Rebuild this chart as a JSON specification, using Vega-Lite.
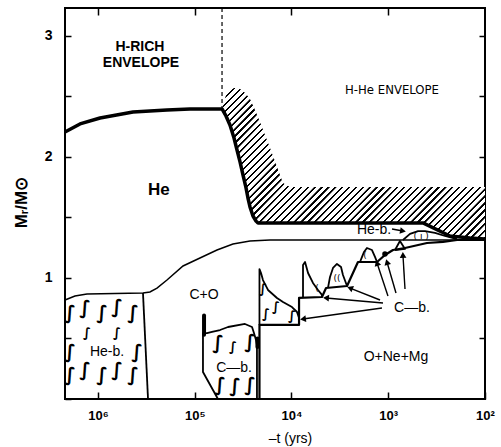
{
"$schema": "https://vega.github.io/schema/vega-lite/v6.json",
"width": 420, "height": 391,
"autosize": {"type": "none"},
"padding": {"left": 65, "top": 8, "right": 16, "bottom": 48},
"background": "white",
"config": {"view": {"stroke": "black", "strokeWidth": 2}, "font": "Liberation Sans"},
"datasets": {
"hatch": [
{"i":0,"lg":4.718,"m":2.397},{"i":1,"lg":4.677,"m":2.512},{"i":2,"lg":4.636,"m":2.554},{"i":3,"lg":4.594,"m":2.570},{"i":4,"lg":4.563,"m":2.570},{"i":5,"lg":4.532,"m":2.562},{"i":6,"lg":4.501,"m":2.545},{"i":7,"lg":4.470,"m":2.521},{"i":8,"lg":4.429,"m":2.479},{"i":9,"lg":4.377,"m":2.388},{"i":10,"lg":4.326,"m":2.289},{"i":11,"lg":4.222,"m":2.074},{"i":12,"lg":4.088,"m":1.785},{"i":13,"lg":4.016,"m":1.752},{"i":14,"lg":2.0,"m":1.752},
{"i":15,"lg":2.0,"m":1.322},{"i":16,"lg":2.362,"m":1.347},{"i":17,"lg":2.641,"m":1.455},{"i":18,"lg":4.346,"m":1.455},{"i":19,"lg":4.367,"m":1.471},{"i":20,"lg":4.398,"m":1.512},{"i":21,"lg":4.429,"m":1.587},{"i":22,"lg":4.450,"m":1.661},{"i":23,"lg":4.470,"m":1.744},{"i":24,"lg":4.501,"m":1.851},{"i":25,"lg":4.532,"m":1.959},{"i":26,"lg":4.563,"m":2.058},{"i":27,"lg":4.594,"m":2.157},{"i":28,"lg":4.636,"m":2.264},{"i":29,"lg":4.677,"m":2.339},{"i":30,"lg":4.718,"m":2.397}
],
"thick": [
{"i":0,"lg":6.341,"m":2.207},{"i":1,"lg":6.186,"m":2.273},{"i":2,"lg":5.979,"m":2.322},{"i":3,"lg":5.638,"m":2.372},{"i":4,"lg":5.287,"m":2.388},{"i":5,"lg":5.049,"m":2.397},{"i":6,"lg":4.718,"m":2.397},{"i":7,"lg":4.677,"m":2.339},{"i":8,"lg":4.636,"m":2.264},{"i":9,"lg":4.594,"m":2.157},{"i":10,"lg":4.563,"m":2.058},{"i":11,"lg":4.532,"m":1.959},{"i":12,"lg":4.501,"m":1.851},{"i":13,"lg":4.470,"m":1.744},{"i":14,"lg":4.450,"m":1.661},{"i":15,"lg":4.429,"m":1.587},{"i":16,"lg":4.398,"m":1.512},{"i":17,"lg":4.367,"m":1.471},{"i":18,"lg":4.346,"m":1.455},{"i":19,"lg":2.641,"m":1.455},{"i":20,"lg":2.362,"m":1.347},{"i":21,"lg":2.155,"m":1.331},{"i":22,"lg":2.0,"m":1.322}
],
"dashed": [{"i":0,"lg":4.718,"m":3.231},{"i":1,"lg":4.718,"m":2.397}],
"thin": [
{"i":0,"lg":6.341,"m":0.818},{"i":1,"lg":6.238,"m":0.851},{"i":2,"lg":6.114,"m":0.868},{"i":3,"lg":5.535,"m":0.876},{"i":4,"lg":5.463,"m":0.884},{"i":5,"lg":5.390,"m":0.917},{"i":6,"lg":5.287,"m":0.983},{"i":7,"lg":5.121,"m":1.099},{"i":8,"lg":4.946,"m":1.165},{"i":9,"lg":4.770,"m":1.231},{"i":10,"lg":4.605,"m":1.281},{"i":11,"lg":4.429,"m":1.306},{"i":12,"lg":4.222,"m":1.314},{"i":13,"lg":2.0,"m":1.314}
],
"step": [
{"i":0,"lg":4.331,"m":0},{"i":1,"lg":4.331,"m":0.612},{"i":2,"lg":3.922,"m":0.612},{"i":3,"lg":3.922,"m":0.835},{"i":4,"lg":3.685,"m":0.843},{"i":5,"lg":3.643,"m":0.917},{"i":6,"lg":3.426,"m":0.934},{"i":7,"lg":3.313,"m":1.132},{"i":8,"lg":3.116,"m":1.132},{"i":9,"lg":3.034,"m":1.190},{"i":10,"lg":2.951,"m":1.231},{"i":11,"lg":2.827,"m":1.248},{"i":12,"lg":2.600,"m":1.289},{"i":13,"lg":2.434,"m":1.298},{"i":14,"lg":2.289,"m":1.314},{"i":15,"lg":2.0,"m":1.314}
],
"outlines": [
{"id":"heb","i":0,"lg":5.535,"m":0.876},{"id":"heb","i":1,"lg":5.483,"m":0},
{"id":"cb","i":0,"lg":4.357,"m":0},{"id":"cb","i":1,"lg":4.357,"m":0.446},{"id":"cb","i":2,"lg":4.367,"m":0.488},{"id":"cb","i":3,"lg":4.388,"m":0.545},{"id":"cb","i":4,"lg":4.408,"m":0.595},{"id":"cb","i":5,"lg":4.481,"m":0.620},{"id":"cb","i":6,"lg":4.656,"m":0.595},{"id":"cb","i":7,"lg":4.739,"m":0.570},{"id":"cb","i":8,"lg":4.822,"m":0.554},{"id":"cb","i":9,"lg":4.873,"m":0.545},{"id":"cb","i":10,"lg":4.915,"m":0.545},{"id":"cb","i":11,"lg":4.915,"m":0.223},{"id":"cb","i":12,"lg":4.760,"m":0},
{"id":"s1","i":0,"lg":4.331,"m":0.612},{"id":"s1","i":1,"lg":4.331,"m":1.074},{"id":"s1","i":2,"lg":4.315,"m":1.041},{"id":"s1","i":3,"lg":4.295,"m":0.983},{"id":"s1","i":4,"lg":4.243,"m":0.901},{"id":"s1","i":5,"lg":4.150,"m":0.835},{"id":"s1","i":6,"lg":4.088,"m":0.802},{"id":"s1","i":7,"lg":3.995,"m":0.760},{"id":"s1","i":8,"lg":3.943,"m":0.719},{"id":"s1","i":9,"lg":3.922,"m":0.669},{"id":"s1","i":10,"lg":3.922,"m":0.612},
{"id":"s2","i":0,"lg":3.881,"m":0.843},{"id":"s2","i":1,"lg":3.881,"m":1.107},{"id":"s2","i":2,"lg":3.860,"m":1.132},{"id":"s2","i":3,"lg":3.829,"m":1.041},{"id":"s2","i":4,"lg":3.778,"m":0.959},{"id":"s2","i":5,"lg":3.726,"m":0.901},{"id":"s2","i":6,"lg":3.685,"m":0.860},{"id":"s2","i":7,"lg":3.685,"m":0.843},
{"id":"s3","i":0,"lg":3.623,"m":0.918},{"id":"s3","i":1,"lg":3.602,"m":1.008},{"id":"s3","i":2,"lg":3.571,"m":1.083},{"id":"s3","i":3,"lg":3.530,"m":1.116},{"id":"s3","i":4,"lg":3.488,"m":1.091},{"id":"s3","i":5,"lg":3.468,"m":1.025},{"id":"s3","i":6,"lg":3.426,"m":0.934},
{"id":"s4","i":0,"lg":3.292,"m":1.132},{"id":"s4","i":1,"lg":3.271,"m":1.174},{"id":"s4","i":2,"lg":3.251,"m":1.215},{"id":"s4","i":3,"lg":3.220,"m":1.248},{"id":"s4","i":4,"lg":3.168,"m":1.231},{"id":"s4","i":5,"lg":3.137,"m":1.174},{"id":"s4","i":6,"lg":3.116,"m":1.132},
{"id":"tri","i":0,"lg":2.930,"m":1.231},{"id":"tri","i":1,"lg":2.879,"m":1.306},{"id":"tri","i":2,"lg":2.827,"m":1.240},{"id":"tri","i":3,"lg":2.930,"m":1.231},
{"id":"lens","i":0,"lg":2.848,"m":1.314},{"id":"lens","i":1,"lg":2.775,"m":1.364},{"id":"lens","i":2,"lg":2.692,"m":1.388},{"id":"lens","i":3,"lg":2.620,"m":1.388},{"id":"lens","i":4,"lg":2.517,"m":1.372},{"id":"lens","i":5,"lg":2.413,"m":1.347},{"id":"lens","i":6,"lg":2.289,"m":1.322}
],
"spikes": [{"lg":4.904,"m":0.53,"m2":0.69},{"lg":4.352,"m":0.43,"m2":0.50}],
"dots": [{"lg":3.034,"m":1.198}],
"arrows": [
{"lg":3.065,"m":0.752,"lg2":3.881,"m2":0.661,"dir":172},
{"lg":3.054,"m":0.793,"lg2":3.643,"m2":0.835,"dir":185},
{"lg":3.085,"m":0.818,"lg2":3.395,"m2":0.917,"dir":202},
{"lg":3.003,"m":0.851,"lg2":3.116,"m2":1.124,"dir":252},
{"lg":2.920,"m":0.876,"lg2":3.013,"m2":1.132,"dir":254},
{"lg":2.827,"m":0.909,"lg2":2.848,"m2":1.190,"dir":267},
{"lg":2.961,"m":1.405,"lg2":2.848,"m2":1.388,"dir":10}
],
"swirls": [
{"lg":6.289,"m":0.711},{"lg":6.134,"m":0.752},{"lg":5.959,"m":0.711},{"lg":5.804,"m":0.760},{"lg":5.638,"m":0.711},
{"lg":6.289,"m":0.388},{"lg":5.597,"m":0.388},
{"lg":6.289,"m":0.198},{"lg":6.134,"m":0.240},{"lg":5.959,"m":0.198},{"lg":5.804,"m":0.240},{"lg":5.638,"m":0.198},
{"lg":4.760,"m":0.463},{"lg":4.429,"m":0.471},{"lg":4.739,"m":0.116},{"lg":4.584,"m":0.105},{"lg":4.429,"m":0.116}
],
"swirls_small": [
{"lg":4.295,"m":0.909},{"lg":4.264,"m":0.702},{"lg":4.160,"m":0.760},{"lg":3.995,"m":0.686},{"lg":4.605,"m":0.430},{"lg":6.114,"m":0.545},{"lg":5.804,"m":0.545}
],
"marks_small": [
{"t":"(","lg":3.736,"m":0.917},{"t":"((","lg":3.530,"m":1.000},{"t":"(","lg":3.240,"m":1.190},{"t":"( ı )","lg":2.66,"m":1.345}
],
"labels": [
{"text":"C+O","lg":4.904,"m":0.860},
{"text":"He-b.","lg":5.907,"m":0.388},
{"text":"C—b.","lg":4.594,"m":0.256},
{"text":"C—b.","lg":2.755,"m":0.752},
{"text":"O+Ne+Mg","lg":2.920,"m":0.347},
{"text":"He-b.","lg":3.147,"m":1.397}
],
"labels_bold": [
{"text":"H-RICH","lg":5.566,"m":2.909},
{"text":"ENVELOPE","lg":5.556,"m":2.777}
],
"label_he": [{"text":"He","lg":5.370,"m":1.727}],
"label_env": [{"text":"H-He ENVELOPE","lg":2.961,"m":2.554}]
},
"encoding": {
"x": {"field":"lg","type":"quantitative","scale":{"domain":[6.341,2],"nice":false,"zero":false},"axis":null},
"y": {"field":"m","type":"quantitative","scale":{"domain":[0,3.231],"nice":false,"zero":false},"axis":null}
},
"layer": [
{"data":{"name":"hatch"},
 "mark":{"type":"line","strokeOpacity":0,"fill":{"gradient":"linear","x1":0,"y1":0,"x2":1.185,"y2":0.675,"stops":[
{"offset":0,"color":"#fff"},{"offset":0.0105,"color":"#fff"},{"offset":0.0112,"color":"#000"},{"offset":0.016,"color":"#000"},
{"offset":0.0167,"color":"#fff"},{"offset":0.0272,"color":"#fff"},{"offset":0.0279,"color":"#000"},{"offset":0.0327,"color":"#000"},
{"offset":0.0333,"color":"#fff"},{"offset":0.0438,"color":"#fff"},{"offset":0.0445,"color":"#000"},{"offset":0.0493,"color":"#000"},
{"offset":0.05,"color":"#fff"},{"offset":0.0605,"color":"#fff"},{"offset":0.0612,"color":"#000"},{"offset":0.066,"color":"#000"},
{"offset":0.0667,"color":"#fff"},{"offset":0.0772,"color":"#fff"},{"offset":0.0779,"color":"#000"},{"offset":0.0827,"color":"#000"},
{"offset":0.0833,"color":"#fff"},{"offset":0.0938,"color":"#fff"},{"offset":0.0945,"color":"#000"},{"offset":0.0993,"color":"#000"},
{"offset":0.1,"color":"#fff"},{"offset":0.1105,"color":"#fff"},{"offset":0.1112,"color":"#000"},{"offset":0.116,"color":"#000"},
{"offset":0.1167,"color":"#fff"},{"offset":0.1272,"color":"#fff"},{"offset":0.1279,"color":"#000"},{"offset":0.1327,"color":"#000"},
{"offset":0.1333,"color":"#fff"},{"offset":0.1438,"color":"#fff"},{"offset":0.1445,"color":"#000"},{"offset":0.1493,"color":"#000"},
{"offset":0.15,"color":"#fff"},{"offset":0.1605,"color":"#fff"},{"offset":0.1612,"color":"#000"},{"offset":0.166,"color":"#000"},
{"offset":0.1667,"color":"#fff"},{"offset":0.1772,"color":"#fff"},{"offset":0.1779,"color":"#000"},{"offset":0.1827,"color":"#000"},
{"offset":0.1833,"color":"#fff"},{"offset":0.1938,"color":"#fff"},{"offset":0.1945,"color":"#000"},{"offset":0.1993,"color":"#000"},
{"offset":0.2,"color":"#fff"},{"offset":0.2105,"color":"#fff"},{"offset":0.2112,"color":"#000"},{"offset":0.216,"color":"#000"},
{"offset":0.2167,"color":"#fff"},{"offset":0.2272,"color":"#fff"},{"offset":0.2279,"color":"#000"},{"offset":0.2327,"color":"#000"},
{"offset":0.2333,"color":"#fff"},{"offset":0.2438,"color":"#fff"},{"offset":0.2445,"color":"#000"},{"offset":0.2493,"color":"#000"},
{"offset":0.25,"color":"#fff"},{"offset":0.2605,"color":"#fff"},{"offset":0.2612,"color":"#000"},{"offset":0.266,"color":"#000"},
{"offset":0.2667,"color":"#fff"},{"offset":0.2772,"color":"#fff"},{"offset":0.2779,"color":"#000"},{"offset":0.2827,"color":"#000"},
{"offset":0.2833,"color":"#fff"},{"offset":0.2938,"color":"#fff"},{"offset":0.2945,"color":"#000"},{"offset":0.2993,"color":"#000"},
{"offset":0.3,"color":"#fff"},{"offset":0.3105,"color":"#fff"},{"offset":0.3112,"color":"#000"},{"offset":0.316,"color":"#000"},
{"offset":0.3167,"color":"#fff"},{"offset":0.3272,"color":"#fff"},{"offset":0.3279,"color":"#000"},{"offset":0.3327,"color":"#000"},
{"offset":0.3333,"color":"#fff"},{"offset":0.3438,"color":"#fff"},{"offset":0.3445,"color":"#000"},{"offset":0.3493,"color":"#000"},
{"offset":0.35,"color":"#fff"},{"offset":0.3605,"color":"#fff"},{"offset":0.3612,"color":"#000"},{"offset":0.366,"color":"#000"},
{"offset":0.3667,"color":"#fff"},{"offset":0.3772,"color":"#fff"},{"offset":0.3779,"color":"#000"},{"offset":0.3827,"color":"#000"},
{"offset":0.3833,"color":"#fff"},{"offset":0.3938,"color":"#fff"},{"offset":0.3945,"color":"#000"},{"offset":0.3993,"color":"#000"},
{"offset":0.4,"color":"#fff"},{"offset":0.4105,"color":"#fff"},{"offset":0.4112,"color":"#000"},{"offset":0.416,"color":"#000"},
{"offset":0.4167,"color":"#fff"},{"offset":0.4272,"color":"#fff"},{"offset":0.4279,"color":"#000"},{"offset":0.4327,"color":"#000"},
{"offset":0.4333,"color":"#fff"},{"offset":0.4438,"color":"#fff"},{"offset":0.4445,"color":"#000"},{"offset":0.4493,"color":"#000"},
{"offset":0.45,"color":"#fff"},{"offset":0.4605,"color":"#fff"},{"offset":0.4612,"color":"#000"},{"offset":0.466,"color":"#000"},
{"offset":0.4667,"color":"#fff"},{"offset":0.4772,"color":"#fff"},{"offset":0.4779,"color":"#000"},{"offset":0.4827,"color":"#000"},
{"offset":0.4833,"color":"#fff"},{"offset":0.4938,"color":"#fff"},{"offset":0.4945,"color":"#000"},{"offset":0.4993,"color":"#000"},
{"offset":0.5,"color":"#fff"},{"offset":0.5105,"color":"#fff"},{"offset":0.5112,"color":"#000"},{"offset":0.516,"color":"#000"},
{"offset":0.5167,"color":"#fff"},{"offset":0.5272,"color":"#fff"},{"offset":0.5279,"color":"#000"},{"offset":0.5327,"color":"#000"},
{"offset":0.5333,"color":"#fff"},{"offset":0.5438,"color":"#fff"},{"offset":0.5445,"color":"#000"},{"offset":0.5493,"color":"#000"},
{"offset":0.55,"color":"#fff"},{"offset":0.5605,"color":"#fff"},{"offset":0.5612,"color":"#000"},{"offset":0.566,"color":"#000"},
{"offset":0.5667,"color":"#fff"},{"offset":0.5772,"color":"#fff"},{"offset":0.5779,"color":"#000"},{"offset":0.5827,"color":"#000"},
{"offset":0.5833,"color":"#fff"},{"offset":0.5938,"color":"#fff"},{"offset":0.5945,"color":"#000"},{"offset":0.5993,"color":"#000"},
{"offset":0.6,"color":"#fff"},{"offset":0.6105,"color":"#fff"},{"offset":0.6112,"color":"#000"},{"offset":0.616,"color":"#000"},
{"offset":0.6167,"color":"#fff"},{"offset":0.6272,"color":"#fff"},{"offset":0.6279,"color":"#000"},{"offset":0.6327,"color":"#000"},
{"offset":0.6333,"color":"#fff"},{"offset":0.6438,"color":"#fff"},{"offset":0.6445,"color":"#000"},{"offset":0.6493,"color":"#000"},
{"offset":0.65,"color":"#fff"},{"offset":0.6605,"color":"#fff"},{"offset":0.6612,"color":"#000"},{"offset":0.666,"color":"#000"},
{"offset":0.6667,"color":"#fff"},{"offset":0.6772,"color":"#fff"},{"offset":0.6779,"color":"#000"},{"offset":0.6827,"color":"#000"},
{"offset":0.6833,"color":"#fff"},{"offset":0.6938,"color":"#fff"},{"offset":0.6945,"color":"#000"},{"offset":0.6993,"color":"#000"},
{"offset":0.7,"color":"#fff"},{"offset":0.7105,"color":"#fff"},{"offset":0.7112,"color":"#000"},{"offset":0.716,"color":"#000"},
{"offset":0.7167,"color":"#fff"},{"offset":0.7272,"color":"#fff"},{"offset":0.7279,"color":"#000"},{"offset":0.7327,"color":"#000"},
{"offset":0.7333,"color":"#fff"},{"offset":0.7438,"color":"#fff"},{"offset":0.7445,"color":"#000"},{"offset":0.7493,"color":"#000"},
{"offset":0.75,"color":"#fff"},{"offset":0.7605,"color":"#fff"},{"offset":0.7612,"color":"#000"},{"offset":0.766,"color":"#000"},
{"offset":0.7667,"color":"#fff"},{"offset":0.7772,"color":"#fff"},{"offset":0.7779,"color":"#000"},{"offset":0.7827,"color":"#000"},
{"offset":0.7833,"color":"#fff"},{"offset":0.7938,"color":"#fff"},{"offset":0.7945,"color":"#000"},{"offset":0.7993,"color":"#000"},
{"offset":0.8,"color":"#fff"},{"offset":0.8105,"color":"#fff"},{"offset":0.8112,"color":"#000"},{"offset":0.816,"color":"#000"},
{"offset":0.8167,"color":"#fff"},{"offset":0.8272,"color":"#fff"},{"offset":0.8279,"color":"#000"},{"offset":0.8327,"color":"#000"},
{"offset":0.8333,"color":"#fff"},{"offset":0.8438,"color":"#fff"},{"offset":0.8445,"color":"#000"},{"offset":0.8493,"color":"#000"},
{"offset":0.85,"color":"#fff"},{"offset":0.8605,"color":"#fff"},{"offset":0.8612,"color":"#000"},{"offset":0.866,"color":"#000"},
{"offset":0.8667,"color":"#fff"},{"offset":0.8772,"color":"#fff"},{"offset":0.8779,"color":"#000"},{"offset":0.8827,"color":"#000"},
{"offset":0.8833,"color":"#fff"},{"offset":0.8938,"color":"#fff"},{"offset":0.8945,"color":"#000"},{"offset":0.8993,"color":"#000"},
{"offset":0.9,"color":"#fff"},{"offset":0.9105,"color":"#fff"},{"offset":0.9112,"color":"#000"},{"offset":0.916,"color":"#000"},
{"offset":0.9167,"color":"#fff"},{"offset":0.9272,"color":"#fff"},{"offset":0.9279,"color":"#000"},{"offset":0.9327,"color":"#000"},
{"offset":0.9333,"color":"#fff"},{"offset":0.9438,"color":"#fff"},{"offset":0.9445,"color":"#000"},{"offset":0.9493,"color":"#000"},
{"offset":0.95,"color":"#fff"},{"offset":0.9605,"color":"#fff"},{"offset":0.9612,"color":"#000"},{"offset":0.966,"color":"#000"},
{"offset":0.9667,"color":"#fff"},{"offset":0.9772,"color":"#fff"},{"offset":0.9779,"color":"#000"},{"offset":0.9827,"color":"#000"},
{"offset":0.9833,"color":"#fff"},{"offset":0.9938,"color":"#fff"},{"offset":0.9945,"color":"#000"},{"offset":0.9993,"color":"#000"}
]}},
 "encoding":{"order":{"field":"i","type":"quantitative"}}},
{"data":{"name":"outlines"},
 "mark":{"type":"line","stroke":"black","strokeWidth":1.8,"strokeJoin":"round"},
 "encoding":{"detail":{"field":"id"},"order":{"field":"i","type":"quantitative"}}},
{"data":{"name":"thin"},
 "mark":{"type":"line","stroke":"black","strokeWidth":1.5},
 "encoding":{
  "order":{"field":"i","type":"quantitative"},
  "x":{"field":"lg","type":"quantitative","scale":{"domain":[6.341,2],"nice":false,"zero":false},
   "axis":{"orient":"bottom","values":[6,5,4,3,2],"labelExpr":"'10' + ['⁰','¹','²','³','⁴','⁵','⁶'][datum.value]","tickSize":-7,"tickColor":"black","tickWidth":1.5,"domain":false,"grid":false,"labelFont":"Liberation Sans","labelFontSize":13,"labelFontWeight":"bold","labelColor":"black","labelPadding":17,"labelFlush":false,"title":"–t (yrs)","titleFont":"Liberation Sans","titleFontSize":14,"titleFontWeight":"normal","titleColor":"black","titleX":225,"titleY":43,"titleBaseline":"alphabetic"}},
  "y":{"field":"m","type":"quantitative","scale":{"domain":[0,3.231],"nice":false,"zero":false},
   "axis":{"orient":"left","values":[0,0.5,1,1.5,2,2.5,3],"labelExpr":"datum.value == 1 ? '1' : datum.value == 2 ? '2' : datum.value == 3 ? '3' : ''","tickSize":-6,"tickColor":"black","tickWidth":1.5,"domain":false,"grid":false,"labelFont":"Liberation Sans","labelFontSize":14,"labelFontWeight":"bold","labelColor":"black","labelPadding":19,"labelFlush":false,"title":"Mᵣ/M⊙","titleFont":"Liberation Sans","titleFontSize":17,"titleFontWeight":"bold","titleColor":"black","titleX":-44,"titleY":194,"titleAngle":270,"titleBaseline":"middle","titleAlign":"center"}}
 }},
{"data":{"name":"step"},
 "mark":{"type":"line","stroke":"black","strokeWidth":2.2,"strokeJoin":"round"},
 "encoding":{"order":{"field":"i","type":"quantitative"}}},
{"data":{"name":"thick"},
 "mark":{"type":"line","stroke":"black","strokeWidth":3.5,"strokeJoin":"round"},
 "encoding":{
  "order":{"field":"i","type":"quantitative"},
  "x":{"field":"lg","type":"quantitative","scale":{"domain":[6.341,2],"nice":false,"zero":false},
   "axis":{"orient":"top","values":[6,5,4,3],"labels":false,"tickSize":-7,"tickColor":"black","tickWidth":1.5,"domain":false,"grid":false,"title":null}},
  "y":{"field":"m","type":"quantitative","scale":{"domain":[0,3.231],"nice":false,"zero":false},
   "axis":{"orient":"right","values":[0.5,1,1.5,2,2.5,3],"labels":false,"tickSize":-6,"tickColor":"black","tickWidth":1.5,"domain":false,"grid":false,"title":null}}
 }},
{"data":{"name":"dashed"},
 "mark":{"type":"line","stroke":"black","strokeWidth":1.2,"strokeDash":[4,3]},
 "encoding":{"order":{"field":"i","type":"quantitative"}}},
{"data":{"name":"spikes"},
 "mark":{"type":"rule","stroke":"black","strokeWidth":4,"strokeCap":"round"},
 "encoding":{"y2":{"field":"m2"}}},
{"data":{"name":"dots"},
 "mark":{"type":"point","filled":true,"color":"black","size":30,"opacity":1}},
{"data":{"name":"arrows"},
 "mark":{"type":"rule","stroke":"black","strokeWidth":1.4},
 "encoding":{"x2":{"field":"lg2"},"y2":{"field":"m2"}}},
{"data":{"name":"arrows"},
 "mark":{"type":"point","shape":"triangle-right","filled":true,"color":"black","size":45,"opacity":1},
 "encoding":{
  "x":{"field":"lg2","type":"quantitative","scale":{"domain":[6.341,2],"nice":false,"zero":false},"axis":null},
  "y":{"field":"m2","type":"quantitative","scale":{"domain":[0,3.231],"nice":false,"zero":false},"axis":null},
  "angle":{"field":"dir","type":"quantitative","scale":null}}},
{"data":{"name":"swirls"},
 "mark":{"type":"text","text":"∫","font":"DejaVu Sans","fontSize":19,"fontWeight":"bold","color":"black","baseline":"middle","align":"center"}},
{"data":{"name":"swirls_small"},
 "mark":{"type":"text","text":"∫","font":"DejaVu Sans","fontSize":13,"fontWeight":"bold","color":"black","baseline":"middle","align":"center"}},
{"data":{"name":"marks_small"},
 "mark":{"type":"text","font":"DejaVu Sans","fontSize":9,"color":"black","baseline":"middle","align":"center"},
 "encoding":{"text":{"field":"t"}}},
{"data":{"name":"labels"},
 "mark":{"type":"text","font":"Liberation Sans","fontSize":14,"color":"black","baseline":"middle","align":"center"},
 "encoding":{"text":{"field":"text"}}},
{"data":{"name":"labels_bold"},
 "mark":{"type":"text","font":"Liberation Sans","fontSize":14,"fontWeight":"bold","color":"black","baseline":"middle","align":"center"},
 "encoding":{"text":{"field":"text"}}},
{"data":{"name":"label_he"},
 "mark":{"type":"text","font":"Liberation Sans","fontSize":17,"fontWeight":"bold","color":"black","baseline":"middle","align":"center"},
 "encoding":{"text":{"field":"text"}}},
{"data":{"name":"label_env"},
 "mark":{"type":"text","font":"Liberation Sans Narrow, DejaVu Sans Condensed, Liberation Sans","fontSize":13,"color":"black","baseline":"middle","align":"center"},
 "encoding":{"text":{"field":"text"}}}
],
"resolve": {"axis": {"x": "independent", "y": "independent"}}
}
